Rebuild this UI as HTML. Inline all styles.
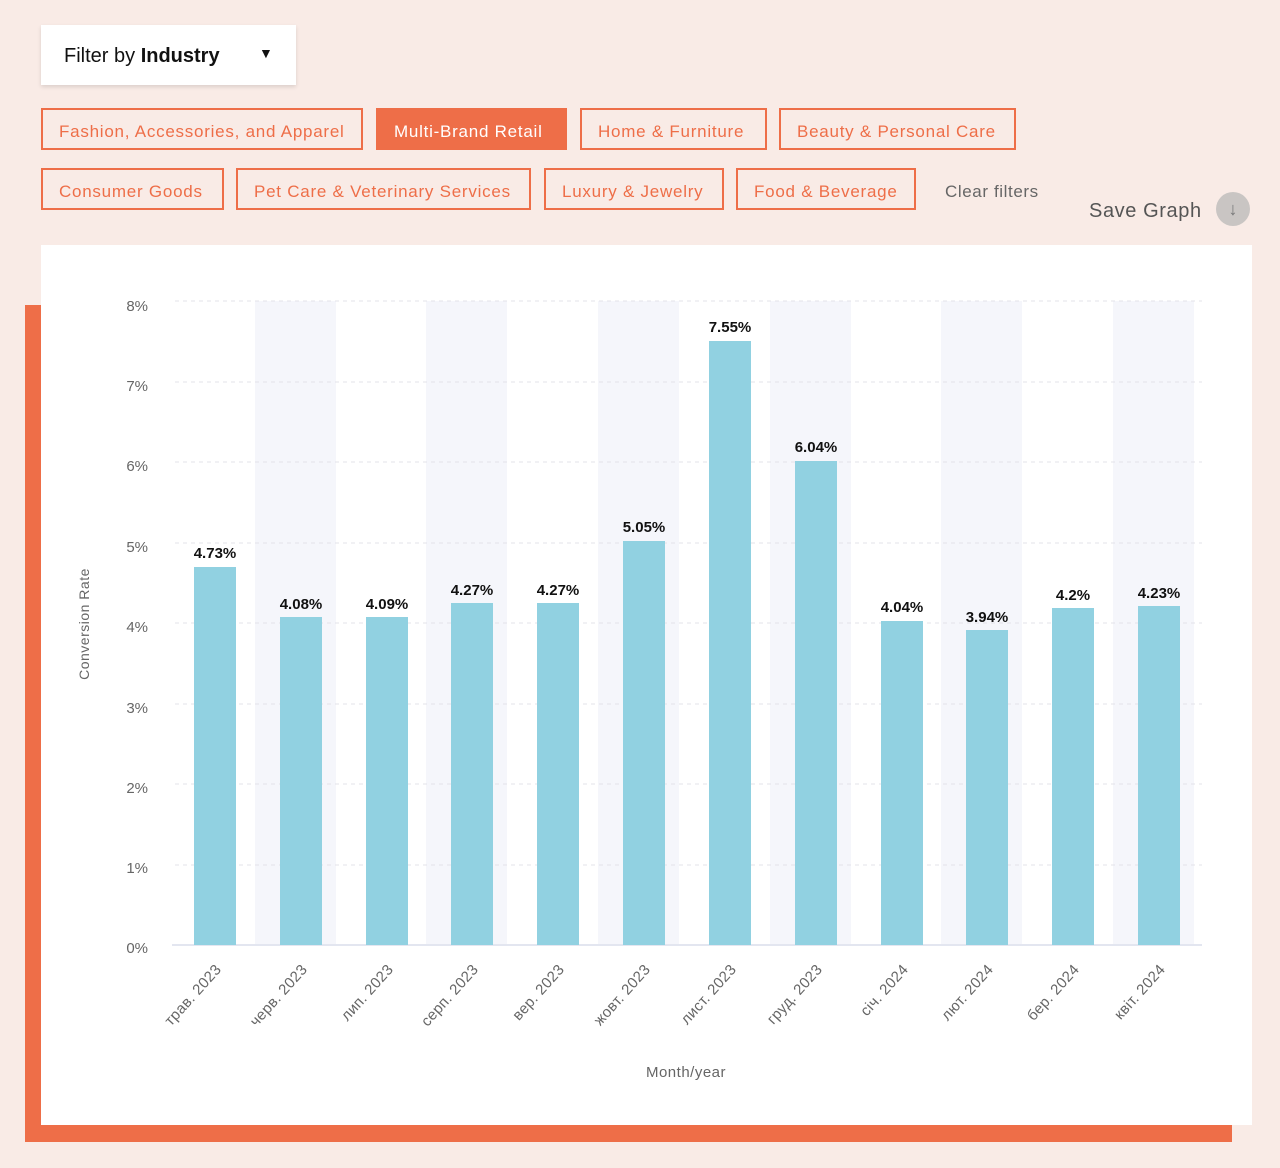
<!DOCTYPE html>
<html><head><meta charset="utf-8"><style>
body{margin:0;width:1280px;height:1168px;background:#f9ebe6;font-family:"Liberation Sans",sans-serif;position:relative;overflow:hidden}
.dd{position:absolute;left:41px;top:25px;width:255px;height:60px;background:#fff;box-shadow:0 2px 4px rgba(0,0,0,.12);font-size:20px;color:#111}
.dd span{position:absolute;left:23px;top:20px}
.tag{position:absolute;height:42px;border:2px solid #ee6e48;box-sizing:border-box;color:#ee6e48;font-size:17px;line-height:43px;padding:0 16px;letter-spacing:.75px;white-space:nowrap}
.on{background:#ee6e48;color:#fff}
</style></head><body>
<div class="dd"><span>Filter by <b>Industry</b></span><span style="left:218px;top:20px;font-size:14px">▼</span></div>
<div class="tag" style="left:41px;top:108px;width:322px">Fashion, Accessories, and Apparel</div>
<div class="tag on" style="left:376px;top:108px;width:191px">Multi-Brand Retail</div>
<div class="tag" style="left:580px;top:108px;width:187px">Home &amp; Furniture</div>
<div class="tag" style="left:779px;top:108px;width:237px">Beauty &amp; Personal Care</div>
<div class="tag" style="left:41px;top:168px;width:183px">Consumer Goods</div>
<div class="tag" style="left:236px;top:168px;width:295px">Pet Care &amp; Veterinary Services</div>
<div class="tag" style="left:544px;top:168px;width:180px">Luxury &amp; Jewelry</div>
<div class="tag" style="left:736px;top:168px;width:180px">Food &amp; Beverage</div>
<div style="position:absolute;left:945px;top:182px;font-size:17px;color:#666;letter-spacing:.6px">Clear filters</div>
<div style="position:absolute;left:1089px;top:200px;font-size:20px;color:#555;letter-spacing:.6px">Save Graph</div>
<div style="position:absolute;left:1216px;top:192px;width:34px;height:34px;border-radius:50%;background:#c9c5c3;color:#777;text-align:center;line-height:34px;font-size:18px">↓</div>
<div style="position:absolute;left:25px;top:305px;width:1207px;height:837px;background:#ee6e48"></div>
<div style="position:absolute;left:41px;top:245px;width:1211px;height:880px;background:#fff"></div>
<svg style="position:absolute;left:0;top:0" width="1280" height="1168" font-family="Liberation Sans, sans-serif">
<g fill="#f5f6fb">
<rect x="255" y="301" width="81" height="644"/><rect x="426" y="301" width="81" height="644"/><rect x="598" y="301" width="81" height="644"/><rect x="770" y="301" width="81" height="644"/><rect x="941" y="301" width="81" height="644"/><rect x="1113" y="301" width="81" height="644"/>
</g>
<g stroke="#e3e3e8" stroke-dasharray="4 4">
<line x1="175" x2="1202" y1="301" y2="301"/><line x1="175" x2="1202" y1="382" y2="382"/><line x1="175" x2="1202" y1="462" y2="462"/><line x1="175" x2="1202" y1="543" y2="543"/><line x1="175" x2="1202" y1="623" y2="623"/><line x1="175" x2="1202" y1="704" y2="704"/><line x1="175" x2="1202" y1="784" y2="784"/><line x1="175" x2="1202" y1="865" y2="865"/>
</g>
<line x1="172" x2="1202" y1="945" y2="945" stroke="#e3e6f0" stroke-width="2"/>
<g font-size="15" fill="#666" text-anchor="end">
<text x="148" y="311">8%</text><text x="148" y="391">7%</text><text x="148" y="471">6%</text><text x="148" y="552">5%</text><text x="148" y="632">4%</text><text x="148" y="713">3%</text><text x="148" y="793">2%</text><text x="148" y="873">1%</text><text x="148" y="953">0%</text>
</g>
<text transform="translate(89,624) rotate(-90)" text-anchor="middle" font-size="14" fill="#666" letter-spacing=".5">Conversion Rate</text>
<text x="686" y="1077" text-anchor="middle" font-size="15" fill="#666" letter-spacing=".5">Month/year</text>
<g fill="#91d1e1">
<rect x="194" y="567" width="42" height="378"/><rect x="280" y="617" width="42" height="328"/><rect x="366" y="617" width="42" height="328"/><rect x="451" y="603" width="42" height="342"/><rect x="537" y="603" width="42" height="342"/><rect x="623" y="541" width="42" height="404"/><rect x="709" y="341" width="42" height="604"/><rect x="795" y="461" width="42" height="484"/><rect x="881" y="621" width="42" height="324"/><rect x="966" y="630" width="42" height="315"/><rect x="1052" y="608" width="42" height="337"/><rect x="1138" y="606" width="42" height="339"/>
</g>
<g font-size="15" font-weight="bold" fill="#111" text-anchor="middle">
<text x="215" y="558">4.73%</text><text x="301" y="609">4.08%</text><text x="387" y="609">4.09%</text><text x="472" y="595">4.27%</text><text x="558" y="595">4.27%</text><text x="644" y="532">5.05%</text><text x="730" y="332">7.55%</text><text x="816" y="452">6.04%</text><text x="902" y="612">4.04%</text><text x="987" y="622">3.94%</text><text x="1073" y="600">4.2%</text><text x="1159" y="598">4.23%</text>
</g>
<g font-size="15" fill="#666" text-anchor="end" letter-spacing=".3">
<text transform="translate(222,970) rotate(-48)">трав. 2023</text>
<text transform="translate(308,970) rotate(-48)">черв. 2023</text>
<text transform="translate(394,970) rotate(-48)">лип. 2023</text>
<text transform="translate(479,970) rotate(-48)">серп. 2023</text>
<text transform="translate(565,970) rotate(-48)">вер. 2023</text>
<text transform="translate(651,970) rotate(-48)">жовт. 2023</text>
<text transform="translate(737,970) rotate(-48)">лист. 2023</text>
<text transform="translate(823,970) rotate(-48)">груд. 2023</text>
<text transform="translate(909,970) rotate(-48)">січ. 2024</text>
<text transform="translate(994,970) rotate(-48)">лют. 2024</text>
<text transform="translate(1080,970) rotate(-48)">бер. 2024</text>
<text transform="translate(1166,970) rotate(-48)">квіт. 2024</text>
</g>
</svg>
</body></html>
